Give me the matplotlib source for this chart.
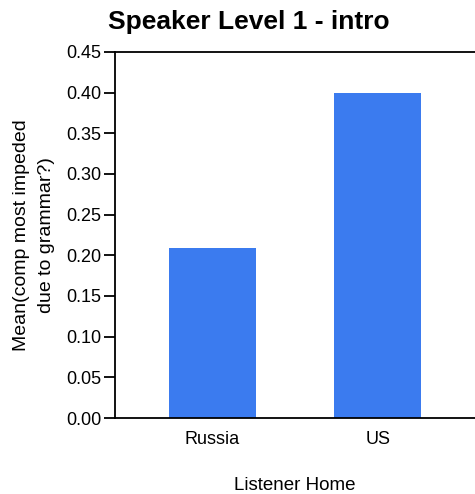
import matplotlib.pyplot as plt
import numpy as np

plt.rcParams['font.family'] = ['Liberation Sans', 'DejaVu Sans']

# data
categories = ["Russia", "US"]
means = [0.209, 0.400]
yticks = [0.00, 0.05, 0.10, 0.15, 0.20, 0.25, 0.30, 0.35, 0.40, 0.45]

BAR_COLOR = "#3b7bef"

fig = plt.figure(figsize=(4.75, 4.94), dpi=100)
ax = fig.add_axes([115 / 475, 1 - 418 / 494, 1 - 115 / 475, (418 - 52) / 494])

x = np.arange(len(categories))
ax.bar(x, means, width=0.524, color=BAR_COLOR, zorder=2)

ax.set_xlim(-0.587, 1.587)
ax.set_ylim(0, 0.45)
ax.set_yticks(yticks)
ax.set_yticklabels([f"{v:.2f}" for v in yticks], fontsize=13)
ax.set_xticks(x)
ax.set_xticklabels(categories, fontsize=13)

ax.spines["right"].set_visible(False)
for s in ("left", "top", "bottom"):
    ax.spines[s].set_linewidth(1.3)
ax.tick_params(axis="y", direction="out", length=8, width=1.3, pad=2)
ax.tick_params(axis="x", length=0, pad=9)

# title is centred over the whole chart, not the axes
fig.text(249 / 475, 1 - 22 / 494, "Speaker Level 1 - intro", fontsize=19,
         fontweight="bold", ha="center", va="center")
ax.set_ylabel("Mean(comp most impeded\ndue to grammar?)", fontsize=14,
              labelpad=8, linespacing=1.6)
ax.set_xlabel("Listener Home", fontsize=13.5, labelpad=21)

fig.savefig("out.png", dpi=100)
